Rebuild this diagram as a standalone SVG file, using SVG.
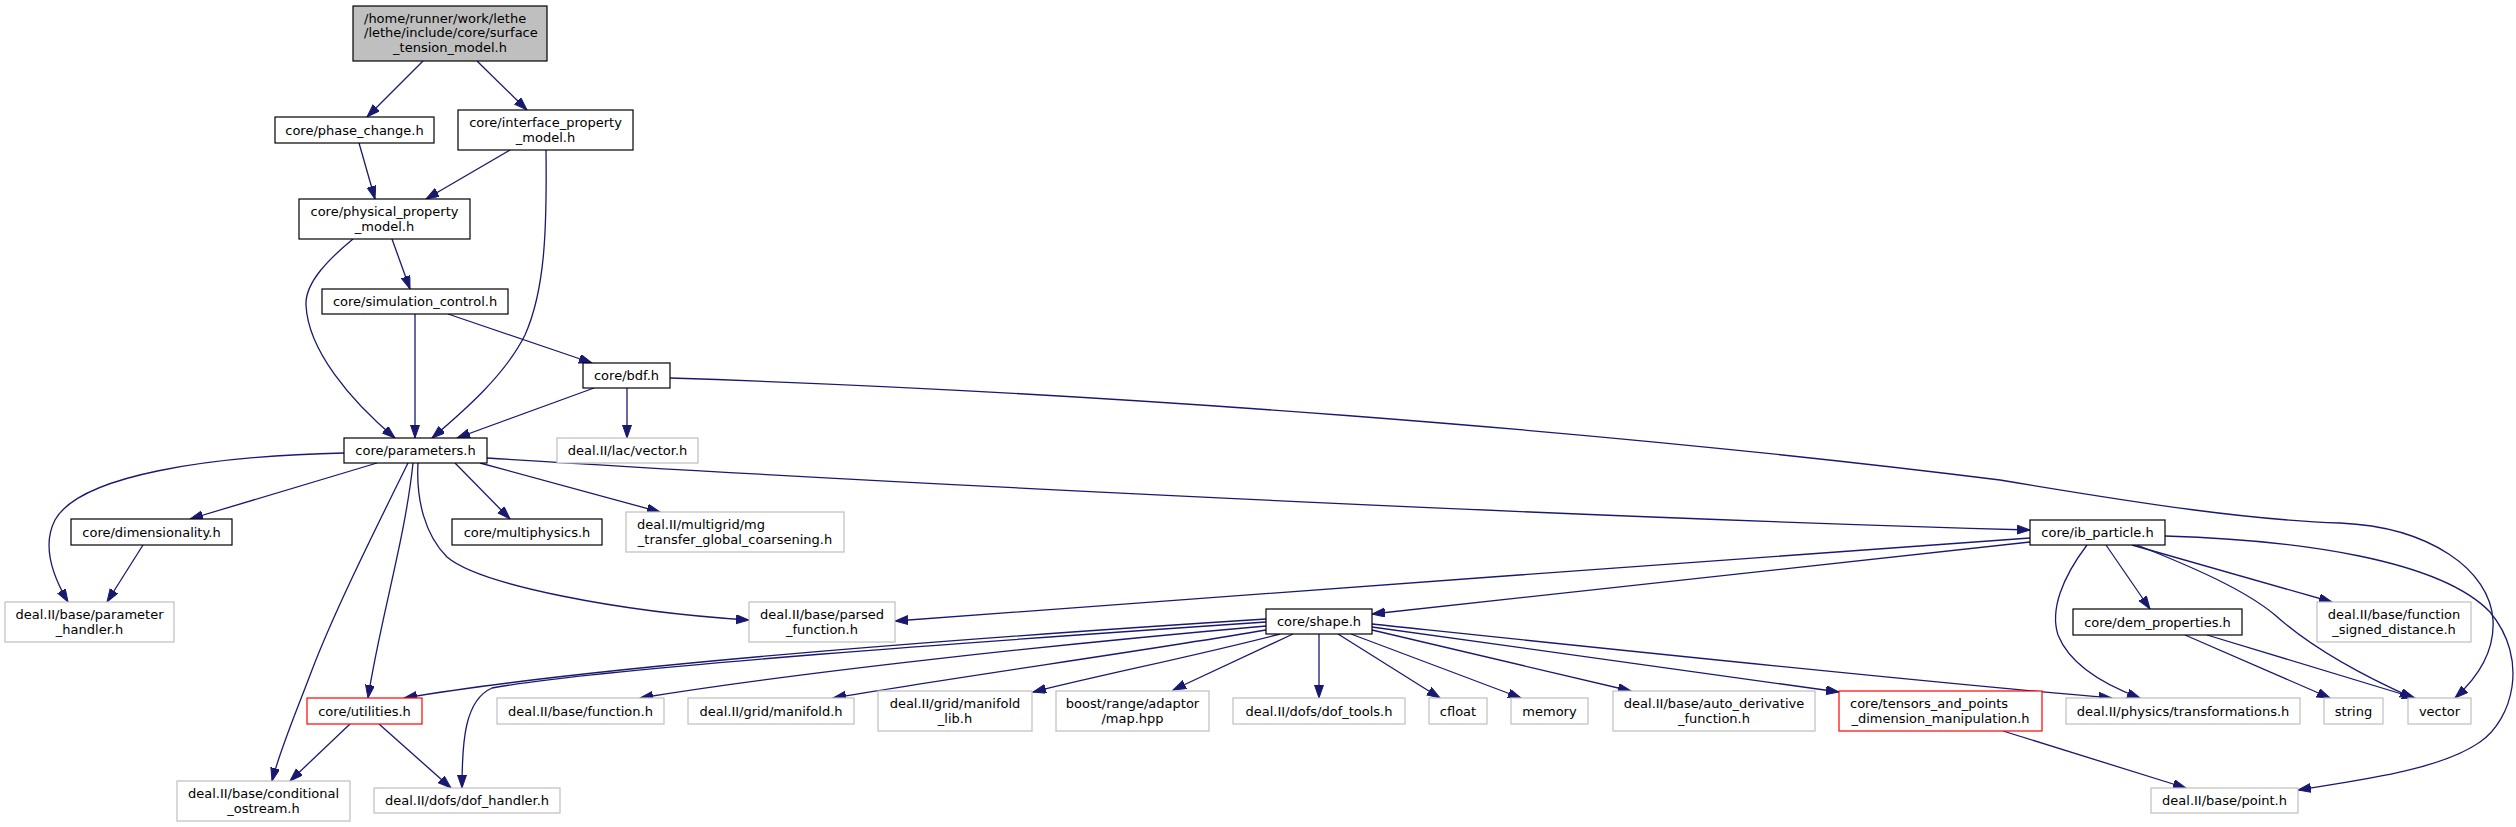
<svg xmlns="http://www.w3.org/2000/svg" width="2516" height="827" viewBox="0 0 2516 827">
<style>
.bg{fill:#ffffff}
.n rect{fill:#ffffff;stroke:#000000;stroke-width:1.2}
.n.ext rect{stroke:#bfbfbf}
.n.red rect{stroke:#ff0000}
.n.root rect{fill:#bfbfbf}
.n text{font-family:"DejaVu Sans","Liberation Sans",sans-serif;font-size:13px;fill:#000000}
.m{text-anchor:middle}
.s{text-anchor:start}
#edges path{fill:none;stroke:#191970;stroke-width:1.3;marker-end:url(#arr)}
</style>
<defs>
<marker id="arr" markerUnits="userSpaceOnUse" markerWidth="14" markerHeight="10" refX="13" refY="4.5" orient="auto">
<path d="M0,0 L13,4.5 L0,9 z" fill="#191970" stroke="#191970" stroke-width="1"/>
</marker>
</defs>
<rect class="bg" x="0" y="0" width="2516" height="827"/>
<g id="edges">
<path d="M423,61 L367,117"/>
<path d="M477,61 L527,110"/>
<path d="M359,143 L375,199"/>
<path d="M510,150 L426,199"/>
<path d="M546,150 C547,230 545,290 525,335 C505,375 465,410 432,438"/>
<path d="M392,239 L410,289"/>
<path d="M353,239 C330,258 305,282 306,305 C308,350 350,400 395,438"/>
<path d="M415,314 L415,438"/>
<path d="M448,314 L592,363"/>
<path d="M594,388 L457,438"/>
<path d="M627,388 L627,438"/>
<path d="M670,378 C1100,392 1600,430 2000,480 C2150,505 2250,520 2340,523 C2430,527 2490,570 2493,620 C2495,655 2475,680 2455,698"/>
<path d="M377,463 L190,519"/>
<path d="M344,453 C210,456 80,475 55,520 C42,545 52,575 68,602"/>
<path d="M143,545 L107,602"/>
<path d="M408,463 C375,530 335,610 312,670 C295,715 280,750 272,781"/>
<path d="M413,463 C405,540 380,620 368,698"/>
<path d="M418,463 C416,500 425,535 447,557 C480,585 620,612 749,620"/>
<path d="M455,463 L510,519"/>
<path d="M480,463 L660,512"/>
<path d="M487,458 C800,478 1500,515 2030,530"/>
<path d="M2030,538 C1700,560 1200,600 895,621"/>
<path d="M2030,542 L1372,614"/>
<path d="M2106,545 L2150,609"/>
<path d="M2087,545 C2062,578 2050,610 2058,635 C2070,665 2105,685 2140,698"/>
<path d="M2132,545 L2332,602"/>
<path d="M2137,545 C2195,568 2245,590 2275,615 C2305,642 2350,670 2413,698"/>
<path d="M2165,536 C2300,540 2440,560 2490,612 C2530,660 2512,720 2480,742 C2440,770 2360,780 2298,790"/>
<path d="M2185,635 L2330,698"/>
<path d="M2207,635 L2415,698"/>
<path d="M2003,731 L2186,788"/>
<path d="M1266,619 C1000,636 600,665 404,698"/>
<path d="M1266,622 C1000,640 600,668 492,688 C465,700 462,740 462,788"/>
<path d="M1266,626 C1050,645 800,672 640,698"/>
<path d="M1266,630 C1150,650 950,678 833,698"/>
<path d="M1280,634 C1200,655 1100,675 1033,692"/>
<path d="M1293,634 L1173,690"/>
<path d="M1319,634 L1319,698"/>
<path d="M1338,634 L1440,698"/>
<path d="M1351,634 L1521,698"/>
<path d="M1372,630 L1631,691"/>
<path d="M1372,627 L1839,692"/>
<path d="M1372,624 C1600,648 1900,680 2112,698"/>
<path d="M350,724 L290,781"/>
<path d="M379,724 L451,788"/>
</g>
<g id="n_top" class="n root"><rect x="353" y="6" width="194" height="55"/><text class="s" x="364" y="22.5">/home/runner/work/lethe</text><text class="s" x="364" y="37">/lethe/include/core/surface</text><text class="m" x="450" y="51.5">_tension_model.h</text></g>
<g id="n_phase" class="n"><rect x="275" y="117" width="159" height="26"/><text class="m" x="354.5" y="134.5">core/phase_change.h</text></g>
<g id="n_interface" class="n"><rect x="458" y="110" width="175" height="40"/><text class="m" x="545.5" y="127">core/interface_property</text><text class="m" x="545.5" y="141.5">_model.h</text></g>
<g id="n_physical" class="n"><rect x="299" y="199" width="171" height="40"/><text class="m" x="384.5" y="216">core/physical_property</text><text class="m" x="384.5" y="230.5">_model.h</text></g>
<g id="n_simctrl" class="n"><rect x="322" y="289" width="186" height="25"/><text class="m" x="415" y="306">core/simulation_control.h</text></g>
<g id="n_bdf" class="n"><rect x="583" y="363" width="87" height="25"/><text class="m" x="626.5" y="380">core/bdf.h</text></g>
<g id="n_params" class="n"><rect x="344" y="438" width="143" height="25"/><text class="m" x="415.5" y="455">core/parameters.h</text></g>
<g id="n_lacvec" class="n ext"><rect x="557" y="438" width="141" height="25"/><text class="m" x="627.5" y="455">deal.II/lac/vector.h</text></g>
<g id="n_dim" class="n"><rect x="71" y="519" width="161" height="26"/><text class="m" x="151.5" y="536.5">core/dimensionality.h</text></g>
<g id="n_multi" class="n"><rect x="452" y="519" width="150" height="26"/><text class="m" x="527" y="536.5">core/multiphysics.h</text></g>
<g id="n_mg" class="n ext"><rect x="626" y="512" width="218" height="40"/><text class="s" x="637" y="529">deal.II/multigrid/mg</text><text class="m" x="735" y="543.5">_transfer_global_coarsening.h</text></g>
<g id="n_ph" class="n ext"><rect x="5" y="602" width="169" height="40"/><text class="m" x="89.5" y="619">deal.II/base/parameter</text><text class="m" x="89.5" y="633.5">_handler.h</text></g>
<g id="n_parsed" class="n ext"><rect x="749" y="602" width="146" height="40"/><text class="m" x="822" y="619">deal.II/base/parsed</text><text class="m" x="822" y="633.5">_function.h</text></g>
<g id="n_ib" class="n"><rect x="2030" y="520" width="135" height="25"/><text class="m" x="2097.5" y="537">core/ib_particle.h</text></g>
<g id="n_shape" class="n"><rect x="1266" y="609" width="106" height="25"/><text class="m" x="1319" y="626">core/shape.h</text></g>
<g id="n_dem" class="n"><rect x="2073" y="609" width="169" height="26"/><text class="m" x="2157.5" y="626.5">core/dem_properties.h</text></g>
<g id="n_sdist" class="n ext"><rect x="2317" y="602" width="154" height="40"/><text class="m" x="2394" y="619">deal.II/base/function</text><text class="m" x="2394" y="633.5">_signed_distance.h</text></g>
<g id="n_util" class="n red"><rect x="307" y="698" width="115" height="26"/><text class="m" x="364.5" y="715.5">core/utilities.h</text></g>
<g id="n_func" class="n ext"><rect x="497" y="698" width="167" height="26"/><text class="m" x="580.5" y="715.5">deal.II/base/function.h</text></g>
<g id="n_manifold" class="n ext"><rect x="688" y="698" width="166" height="26"/><text class="m" x="771" y="715.5">deal.II/grid/manifold.h</text></g>
<g id="n_mlib" class="n ext"><rect x="878" y="691" width="154" height="40"/><text class="m" x="955" y="708">deal.II/grid/manifold</text><text class="m" x="955" y="722.5">_lib.h</text></g>
<g id="n_map" class="n ext"><rect x="1056" y="691" width="153" height="40"/><text class="m" x="1132.5" y="708">boost/range/adaptor</text><text class="m" x="1132.5" y="722.5">/map.hpp</text></g>
<g id="n_doftools" class="n ext"><rect x="1233" y="698" width="172" height="26"/><text class="m" x="1319" y="715.5">deal.II/dofs/dof_tools.h</text></g>
<g id="n_cfloat" class="n ext"><rect x="1429" y="698" width="58" height="26"/><text class="m" x="1458" y="715.5">cfloat</text></g>
<g id="n_memory" class="n ext"><rect x="1511" y="698" width="77" height="26"/><text class="m" x="1549.5" y="715.5">memory</text></g>
<g id="n_auto" class="n ext"><rect x="1613" y="691" width="202" height="40"/><text class="m" x="1714" y="708">deal.II/base/auto_derivative</text><text class="m" x="1714" y="722.5">_function.h</text></g>
<g id="n_tensors" class="n red"><rect x="1839" y="691" width="203" height="40"/><text class="s" x="1850" y="708">core/tensors_and_points</text><text class="m" x="1940.5" y="722.5">_dimension_manipulation.h</text></g>
<g id="n_transf" class="n ext"><rect x="2066" y="698" width="234" height="26"/><text class="m" x="2183" y="715.5">deal.II/physics/transformations.h</text></g>
<g id="n_string" class="n ext"><rect x="2324" y="698" width="59" height="26"/><text class="m" x="2353.5" y="715.5">string</text></g>
<g id="n_vector" class="n ext"><rect x="2408" y="698" width="63" height="26"/><text class="m" x="2439.5" y="715.5">vector</text></g>
<g id="n_cond" class="n ext"><rect x="177" y="781" width="173" height="40"/><text class="m" x="263.5" y="798">deal.II/base/conditional</text><text class="m" x="263.5" y="812.5">_ostream.h</text></g>
<g id="n_dofh" class="n ext"><rect x="374" y="788" width="186" height="25"/><text class="m" x="467" y="805">deal.II/dofs/dof_handler.h</text></g>
<g id="n_point" class="n ext"><rect x="2151" y="788" width="147" height="25"/><text class="m" x="2224.5" y="805">deal.II/base/point.h</text></g>
</svg>
